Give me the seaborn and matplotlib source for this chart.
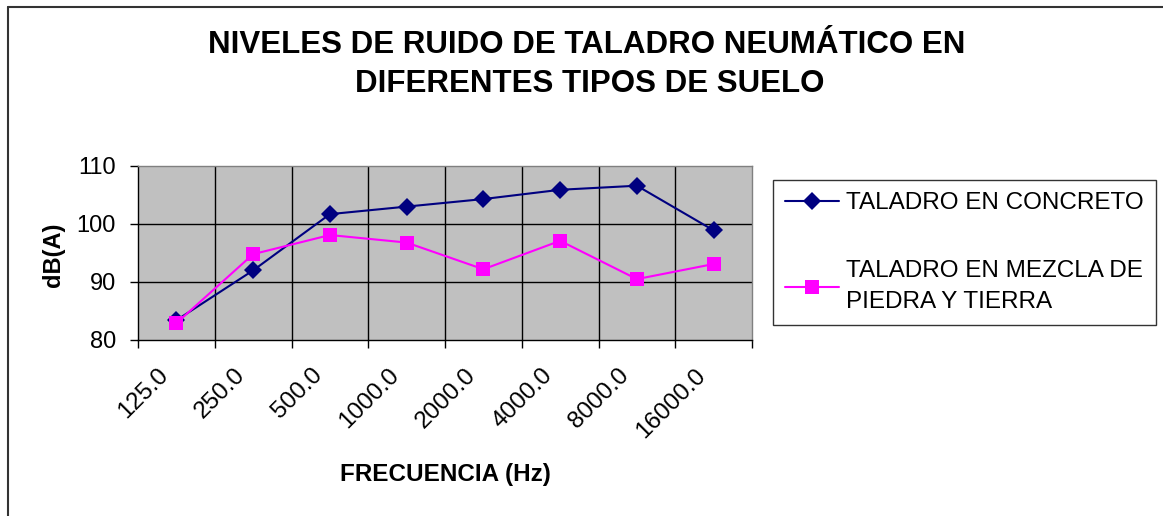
import matplotlib
matplotlib.use("Agg")
import matplotlib.pyplot as plt
import seaborn as sns
import pandas as pd
import numpy as np
from matplotlib.lines import Line2D
from matplotlib.ticker import FixedLocator
from matplotlib.transforms import ScaledTranslation

categories = ["125.0", "250.0", "500.0", "1000.0", "2000.0", "4000.0", "8000.0", "16000.0"]
concreto = [83.4, 92.0, 101.7, 103.0, 104.3, 105.9, 106.6, 98.9]
mezcla = [82.9, 94.8, 98.1, 96.8, 92.2, 97.1, 90.5, 93.1]
series_names = ["TALADRO EN CONCRETO", "TALADRO EN MEZCLA DE\nPIEDRA Y TIERRA"]
yticks = [80, 90, 100, 110]
title_lines = ["NIVELES DE RUIDO DE TALADRO NEUMÁTICO EN", "DIFERENTES TIPOS DE SUELO"]

sns.set_theme(style="white")
plt.rcParams['font.family'] = ['Liberation Sans', 'DejaVu Sans']
plt.rcParams['text.color'] = 'black'
plt.rcParams['axes.labelcolor'] = 'black'
plt.rcParams['xtick.color'] = 'black'
plt.rcParams['ytick.color'] = 'black'

fig = plt.figure(figsize=(11.63, 5.16), dpi=100)
W, H = 1163, 516
ax = fig.add_axes([138 / W, 1 - 340 / H, (752 - 138) / W, (340 - 166) / H])
ax.set_facecolor("#C0C0C0")

df = pd.DataFrame({
    "freq": categories * 2,
    "db": concreto + mezcla,
    "serie": [series_names[0]] * len(categories) + [series_names[1]] * len(categories),
})
sns.lineplot(data=df, x="freq", y="db", hue="serie", style="serie",
             palette=["#000080", "#FF00FF"], markers=["D", "s"], dashes=False,
             markersize=9.5, linewidth=1.5, markeredgewidth=0, ax=ax, sort=False)

n = len(categories)
ax.set_xlim(-0.5, n - 0.5)
ax.set_ylim(80, 110)
ax.set_yticks(yticks)
ax.set_yticklabels([str(v) for v in yticks], fontsize=17)
ax.set_xticks(range(n))
ax.set_xticklabels(categories, rotation=45, ha="right", va="center",
                   rotation_mode="anchor", fontsize=17.5)
ax.tick_params(axis="x", which="major", length=0, pad=23)
shift = ScaledTranslation(-11 / 100, 0, fig.dpi_scale_trans)
for lab in ax.get_xticklabels():
    lab.set_transform(lab.get_transform() + shift)
ax.xaxis.set_minor_locator(FixedLocator(np.arange(-0.5, n, 1.0)))
ax.tick_params(axis="x", which="minor", length=6, width=1, color="black", direction="out", bottom=True)
ax.tick_params(axis="y", which="major", length=6, width=1, color="black", direction="out",
               left=True, labelsize=17, pad=10)

ax.grid(False)
for v in yticks[1:-1]:
    ax.axhline(v, color="black", linewidth=1, zorder=0.5)
for b in np.arange(0.5, n - 0.5, 1.0):
    ax.axvline(b, color="black", linewidth=1, zorder=0.5)

for s in ["top", "right"]:
    ax.spines[s].set_color("#808080")
    ax.spines[s].set_linewidth(1)
for s in ["left", "bottom"]:
    ax.spines[s].set_color("black")
    ax.spines[s].set_linewidth(1)

ax.set_xlabel("FRECUENCIA (Hz)", fontsize=17.5, fontweight="bold", va="center")
ax.xaxis.set_label_coords(0.5, (340 - 475) / 174)
ax.set_ylabel("dB(A)", fontsize=17, fontweight="bold", va="center")
ax.yaxis.set_label_coords((54 - 138) / 614, (340 - 255) / 174)

fig.text(587 / W, 1 - 45 / H, title_lines[0], ha="center", va="center", fontsize=22.5, fontweight="bold")
fig.text(590 / W, 1 - 84 / H, title_lines[1], ha="center", va="center", fontsize=22.5, fontweight="bold")

leg = ax.legend(loc="upper left", bbox_to_anchor=(773 / W, 1 - 180 / H),
                bbox_transform=fig.transFigure, fontsize=17.5, frameon=True,
                fancybox=False, borderpad=0.5, labelspacing=1.9, handlelength=2.2,
                handletextpad=0.3, borderaxespad=0, title=None)
for t in leg.get_texts():
    t.set_linespacing(1.5)
leg.get_frame().set_edgecolor("black")
leg.get_frame().set_linewidth(1)

fig.add_artist(Line2D([7.5 / W, 7.5 / W], [0, 1 - 6.5 / H], transform=fig.transFigure, color="#333333", linewidth=1.5))
fig.add_artist(Line2D([7.5 / W, 1], [1 - 6.5 / H, 1 - 6.5 / H], transform=fig.transFigure, color="#333333", linewidth=1.5))

fig.savefig("out.png", dpi=100, facecolor="white")
